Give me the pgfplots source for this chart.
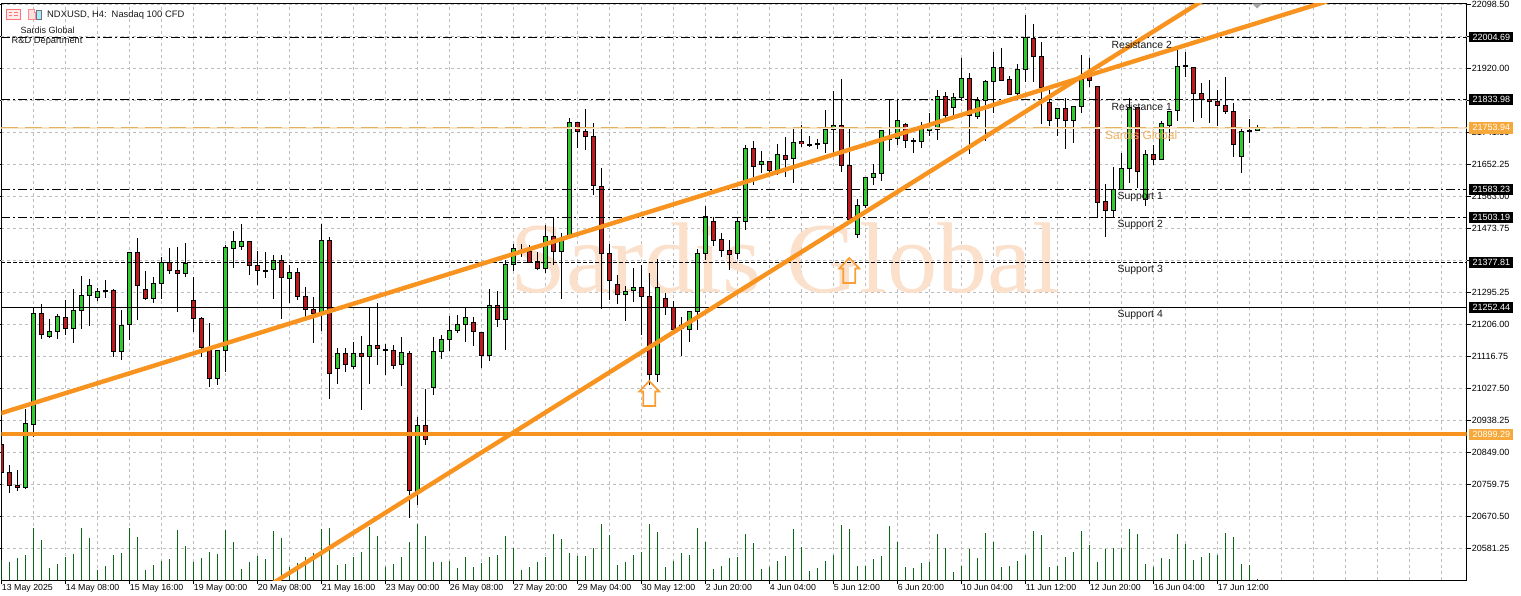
\documentclass[border=0pt]{standalone}
\usepackage{fontspec}
\setmainfont{Liberation Sans}
\newfontfamily\wmfont{Liberation Serif}
\usepackage{pgfplots}
\usepackage{pgfplotstable}
\pgfplotsset{compat=1.18}

\definecolor{upbody}{HTML}{2FCB2F}
\definecolor{downbody}{HTML}{BE1A1E}
\definecolor{volgreen}{HTML}{0A6618}
\definecolor{trend}{HTML}{F7931E}
\definecolor{gridgrey}{HTML}{BDBDBD}
\definecolor{wmark}{HTML}{FBE0CB}
\definecolor{midline}{HTML}{E4B25C}
\definecolor{midpale}{HTML}{F6E7CC}
\definecolor{midbox}{HTML}{F7A83A}
\definecolor{midtext}{HTML}{EFAE5C}

% i open high low close
\pgfplotstableread{
i o h l c
3 20751.4 20969.0 20745.9 20928.0
4 20926.0 21250.7 20890.9 21236.7
6 21171.5 21220.0 21168.7 21186.5
7 21186.5 21234.8 21165.9 21228.3
9 21193.8 21304.5 21154.7 21245.1
10 21245.1 21340.7 21193.8 21286.9
11 21285.8 21332.4 21202.1 21314.8
12 21280.2 21307.3 21271.9 21298.1
13 21299.0 21329.6 21280.2 21300.5
15 21129.6 21245.9 21107.3 21203.2
16 21204.9 21407.7 21161.4 21407.7
19 21277.4 21337.1 21266.3 21320.4
20 21320.4 21394.6 21275.8 21378.9
23 21348.3 21431.9 21337.1 21376.2
27 21054.3 21134.3 21037.6 21133.5
28 21133.5 21427.2 21073.0 21420.8
29 21416.9 21466.2 21363.9 21437.5
30 21422.5 21484.9 21413.2 21437.5
33 21355.5 21407.7 21335.2 21356.6
34 21358.3 21399.3 21276.6 21383.4
36 21333.2 21371.4 21266.3 21351.9
40 21236.7 21485.8 21188.2 21440.3
42 21082.2 21139.1 21039.5 21125.2
44 21089.7 21155.8 21082.2 21125.2
46 21117.6 21255.1 21039.5 21147.5
50 21093.4 21169.8 21033.9 21127.9
52 20738.3 20948.3 20702.1 20923.2
54 21029.2 21169.8 21008.8 21130.7
55 21129.6 21176.2 21109.2 21164.2
56 21163.1 21229.2 21131.6 21189.3
57 21188.2 21232.0 21181.8 21206.0
58 21204.9 21253.4 21157.5 21225.5
61 21118.5 21303.6 21104.5 21259.0
63 21220.0 21385.4 21134.3 21373.4
64 21373.4 21430.0 21355.5 21418.0
65 21406.3 21430.0 21394.6 21409.1
68 21361.1 21483.0 21349.9 21451.5
70 21408.5 21459.8 21277.4 21445.9
71 21455.1 21780.6 21455.1 21769.4
78 21289.7 21312.8 21216.1 21298.1
79 21299.7 21362.2 21269.1 21309.2
82 21066.6 21387.3 21045.1 21309.2
86 21192.1 21243.1 21157.5 21242.3
87 21242.3 21415.2 21190.1 21404.1
88 21404.1 21536.0 21385.4 21506.1
92 21402.9 21502.5 21389.0 21493.3
93 21492.2 21706.9 21469.0 21696.9
95 21653.1 21689.4 21628.8 21660.6
97 21636.4 21708.9 21622.4 21680.2
99 21667.9 21754.3 21601.0 21713.6
102 21709.2 21722.0 21694.1 21710.2
103 21710.8 21803.7 21684.6 21749.9
104 21749.9 21856.7 21683.8 21759.9
107 21455.9 21554.7 21447.6 21537.9
108 21536.8 21616.8 21529.6 21616.0
109 21616.0 21653.1 21594.5 21627.2
110 21626.1 21747.9 21606.5 21747.1
111 21722.8 21833.6 21690.2 21728.4
112 21724.8 21833.6 21706.1 21775.0
115 21715.3 21769.4 21697.7 21753.5
116 21747.9 21796.2 21731.2 21752.1
117 21748.8 21859.5 21720.0 21841.9
119 21811.2 21850.3 21789.8 21837.2
120 21838.0 21949.6 21828.8 21892.1
122 21785.0 21840.8 21779.4 21831.6
123 21829.6 21887.4 21718.1 21884.6
124 21882.6 21966.3 21794.5 21922.8
127 21851.1 21931.2 21845.5 21917.2
128 21916.1 22068.7 21882.6 22004.5
132 21779.4 21809.3 21731.2 21808.5
134 21775.8 21814.9 21712.5 21812.9
135 21812.9 21956.3 21794.5 21889.3
139 21522.9 21643.9 21504.5 21582.5
140 21582.5 21684.6 21582.5 21641.1
141 21640.0 21836.3 21601.0 21811.2
143 21554.7 21692.1 21536.0 21680.2
145 21666.2 21773.9 21666.2 21766.6
146 21761.9 21800.9 21718.1 21800.1
147 21801.8 21971.0 21773.9 21925.6
155 21673.5 21752.7 21628.8 21744.3
157 21747.1 21761.0 21745.1 21752.7
}\upcandles

\pgfplotstableread{
i o h l c
0 20872.2 20875.0 20791.3 20792.1
1 20794.1 20813.6 20736.4 20757.0
2 20757.8 20799.7 20742.0 20750.3
5 21236.7 21262.6 21164.2 21177.0
8 21225.5 21273.8 21177.0 21193.8
14 21301.7 21304.5 21115.7 21129.6
17 21407.7 21445.9 21218.0 21313.7
18 21303.6 21354.7 21275.8 21277.4
21 21378.9 21418.0 21347.2 21356.6
22 21356.6 21422.5 21240.3 21347.2
24 21273.8 21337.1 21184.6 21221.6
25 21222.8 21227.2 21115.7 21140.8
26 21140.8 21208.8 21032.0 21054.3
31 21437.5 21438.4 21343.5 21369.5
32 21370.6 21411.3 21315.6 21355.5
35 21383.4 21399.3 21221.6 21336.0
37 21351.1 21362.2 21273.8 21283.0
38 21284.1 21309.2 21227.2 21247.9
39 21247.9 21281.3 21154.7 21234.8
41 21440.3 21448.7 20997.7 21068.3
43 21125.2 21139.1 21073.0 21093.4
45 21125.2 21173.4 20967.9 21117.6
47 21147.5 21264.6 21093.4 21138.0
48 21136.0 21151.1 21064.6 21134.5
49 21133.5 21147.5 21082.2 21090.6
51 21125.2 21130.7 20666.6 20741.9
53 20923.2 21025.6 20869.4 20884.2
59 21211.6 21225.5 21145.5 21185.4
60 21183.7 21184.6 21085.0 21118.5
62 21259.0 21298.1 21199.3 21218.9
66 21408.5 21427.2 21379.8 21379.8
67 21381.7 21406.8 21357.5 21360.3
69 21451.5 21506.1 21372.3 21408.5
72 21769.4 21770.2 21697.7 21743.2
73 21744.3 21805.7 21692.1 21729.2
74 21730.4 21766.6 21567.5 21592.6
75 21590.9 21641.1 21249.5 21404.1
76 21404.1 21430.0 21273.8 21327.6
77 21317.6 21342.7 21262.6 21288.6
80 21309.2 21371.4 21176.2 21283.0
81 21284.1 21348.3 21036.7 21066.6
83 21278.5 21293.3 21232.0 21253.4
84 21253.4 21271.9 21190.1 21192.1
85 21204.1 21227.2 21117.6 21195.7
89 21493.3 21506.1 21424.4 21441.1
90 21443.1 21459.8 21392.9 21411.3
91 21412.4 21441.1 21357.5 21402.1
94 21696.9 21717.3 21594.5 21645.6
96 21660.6 21661.5 21617.7 21636.4
98 21677.4 21727.6 21616.0 21667.0
100 21716.4 21761.9 21701.4 21709.7
101 21707.5 21731.2 21699.7 21706.3
105 21759.9 21889.3 21631.6 21648.4
106 21649.5 21749.9 21498.9 21498.9
113 21763.8 21766.6 21697.7 21719.2
114 21718.0 21724.8 21684.6 21716.7
118 21841.9 21853.1 21771.1 21787.8
121 21892.1 21906.1 21681.0 21787.8
125 21922.8 21975.8 21885.4 21887.4
126 21889.3 21898.5 21845.5 21847.5
129 22004.5 22043.6 21882.6 21952.4
130 21953.5 21994.2 21764.7 21867.0
131 21826.0 21859.5 21759.1 21775.8
133 21808.5 21836.3 21695.8 21775.8
136 21898.5 21947.9 21867.0 21885.4
137 21870.6 21870.6 21506.1 21546.3
138 21549.1 21597.3 21450.3 21522.9
142 21811.2 21812.9 21585.3 21633.6
144 21680.2 21706.1 21650.3 21664.3
148 21927.0 21966.3 21894.9 21925.8
149 21922.8 21923.6 21769.4 21849.2
150 21849.2 21878.2 21780.6 21832.4
151 21833.6 21887.4 21766.6 21828.0
152 21828.0 21859.5 21759.1 21815.7
153 21816.8 21894.9 21791.7 21800.1
154 21799.0 21822.4 21673.5 21708.0
156 21745.8 21778.6 21712.5 21744.5
}\downcandles

% tick volume, in units of one pixel of the sub-window
\pgfplotstableread{
i v
0 20
1 18
2 22
3 25
4 52
5 40
6 12
7 16
8 23
9 26
10 52
11 42
12 10
13 14
14 25
15 27
16 52
17 43
18 10
19 15
20 19
21 21
22 50
23 34
24 18
25 22
26 28
27 26
28 50
29 38
30 11
31 18
32 24
33 21
34 49
35 42
36 13
37 17
38 23
39 27
40 51
41 52
42 15
43 16
44 23
45 28
46 53
47 44
48 13
49 16
50 23
51 38
52 56
53 44
54 18
55 18
56 19
57 12
58 23
59 13
60 17
61 23
62 25
63 44
64 32
65 10
66 13
67 18
68 23
69 46
70 41
71 27
72 24
73 24
74 32
75 56
76 45
77 15
78 18
79 25
80 28
81 56
82 48
83 13
84 19
85 27
86 25
87 52
88 38
89 11
90 14
91 22
92 23
93 46
94 37
95 11
96 13
97 19
98 24
99 51
100 33
101 9
102 12
103 19
104 25
105 55
106 51
107 14
108 14
109 21
110 24
111 54
112 38
113 13
114 12
115 17
116 18
117 46
118 32
119 8
120 14
121 31
122 22
123 47
124 38
125 13
126 14
127 19
128 25
129 49
130 45
131 13
132 14
133 23
134 28
135 49
136 35
137 18
138 31
139 32
140 32
141 51
142 46
143 16
144 13
145 22
146 21
147 46
148 36
149 20
150 23
151 27
152 25
153 47
154 43
155 16
156 15
157 1
}\volumes

\pgfdeclareplotmark{uparrow}{%
  \pgfpathmoveto{\pgfqpoint{0pt}{12.5pt}}%
  \pgfpathlineto{\pgfqpoint{10pt}{2pt}}%
  \pgfpathlineto{\pgfqpoint{6pt}{2pt}}%
  \pgfpathlineto{\pgfqpoint{6pt}{-12.5pt}}%
  \pgfpathlineto{\pgfqpoint{-6pt}{-12.5pt}}%
  \pgfpathlineto{\pgfqpoint{-6pt}{2pt}}%
  \pgfpathlineto{\pgfqpoint{-10pt}{2pt}}%
  \pgfpathclose
  \pgfusepathqstroke
}

\newcommand{\pxu}{2.789} % price units per pixel
\newcommand{\candles}[2]{%
  \addplot[draw=none,mark=none,error bars/.cd,y dir=both,y explicit,error mark=none,
    error bar style={line width=1pt,draw=black}]
    table[x=i,y=c,y error plus expr={\thisrow{h}-\thisrow{c}},y error minus expr={\thisrow{c}-\thisrow{l}}] {#1};
  \addplot[draw=none,mark=none,error bars/.cd,y dir=both,y explicit,error mark=none,
    error bar style={line width=5pt,draw=black}]
    table[x=i,y expr={(\thisrow{o}+\thisrow{c})/2},
      y error plus expr={abs(\thisrow{c}-\thisrow{o})/2+0.5*\pxu},
      y error minus expr={abs(\thisrow{c}-\thisrow{o})/2+0.5*\pxu}] {#1};
  \addplot[draw=none,mark=none,error bars/.cd,y dir=both,y explicit,error mark=none,
    error bar style={line width=3.3pt,draw=#2}]
    table[x=i,y expr={(\thisrow{o}+\thisrow{c})/2},
      y error plus expr={max(abs(\thisrow{c}-\thisrow{o})/2-0.5*\pxu,0)},
      y error minus expr={max(abs(\thisrow{c}-\thisrow{o})/2-0.5*\pxu,0)}] {#1};
}
\newcommand{\lvl}[2]{\addplot[#2] coordinates {(0,#1) (184,#1)};}
\tikzset{
  ddot/.style={black,line width=0.9pt,dash pattern=on 9pt off 3pt on 2pt off 3pt},
  smalltxt/.style={font=\fontsize{10.4}{12}\selectfont,inner sep=0pt,anchor=west,text=black!90},
  pricebox/.style={fill=#1,text=white,inner sep=0pt,minimum width=44pt,minimum height=10.5pt,
    font=\fontsize{9}{10}\selectfont},
}

\begin{document}
\begin{tikzpicture}
\useasboundingbox (0,0) rectangle (1521pt,595pt);
\begin{axis}[
  at={(1.3pt,15pt)},anchor=south west,
  scale only axis,width=1465.4pt,height=576.5pt,
  xmin=0,xmax=183.175,ymin=20492.9,ymax=22100.7,
  axis line style={black,line width=1pt},
  xtick={0,8,...,152},
  xticklabels={13 May 2025,14 May 08:00,15 May 16:00,19 May 00:00,20 May 08:00,21 May 16:00,
    23 May 00:00,26 May 08:00,27 May 20:00,29 May 04:00,30 May 12:00,2 Jun 20:00,4 Jun 04:00,
    5 Jun 12:00,6 Jun 20:00,10 Jun 04:00,11 Jun 12:00,12 Jun 20:00,16 Jun 04:00,17 Jun 12:00},
  minor xtick={4,12,...,180,160,168,176},
  scaled y ticks=false,
  ytick={20581.25,20670.5,20759.75,20849,20938.25,21027.5,21116.75,21206,21295.25,
    21473.75,21563,21652.25,21741.5,21920,22098.5},
  % these three sit under the price boxes, so they carry no label
  extra y ticks={21384.5,21830.75,22009.25},
  extra y tick labels={},
  extra y tick style={grid=major},
  yticklabel pos=right,
  tick align=outside,
  major tick length=4pt,minor tick length=0pt,
  xtick pos=bottom,
  tick style={black,line width=0.8pt},
  xmajorgrids,xminorgrids,ymajorgrids,
  grid style={gridgrey,line width=0.7pt,dash pattern=on 3pt off 3pt},
  minor grid style={gridgrey,line width=0.7pt,dash pattern=on 3pt off 3pt},
  /pgf/number format/assume math mode=true,
  y tick label style={/pgf/number format/fixed,/pgf/number format/fixed zerofill,
    /pgf/number format/precision=2,/pgf/number format/1000 sep={},
    font=\fontsize{9}{10}\selectfont,anchor=west,inner sep=0pt,xshift=1pt},
  x tick label style={font=\fontsize{8.8}{10}\selectfont,anchor=north west,inner sep=0pt,
    xshift=0.5pt,yshift=-0.5pt},
]
\node[font=\wmfont\fontsize{100.5}{100}\selectfont,text=wmark,anchor=base west,inner sep=0pt]
  at (axis cs:63.6,21295) {Sardis Global};

\addplot[ycomb,volgreen,line width=1.2pt]
  table[x=i,y expr={\thisrow{v}*\pxu+20492.9}] {\volumes};

\candles{\upcandles}{upbody}
\candles{\downcandles}{downbody}

% horizontal levels
\lvl{22004.69}{ddot}
\lvl{21833.98}{ddot}
\lvl{21583.23}{ddot}
\lvl{21503.19}{ddot}
\lvl{21377.81}{black,line width=0.9pt,dash pattern=on 4pt off 2pt}
\lvl{21252.44}{black,line width=0.9pt}
\lvl{21753.94}{midpale,line width=2pt}
\lvl{21753.94}{midline,line width=1.1pt,dash pattern=on 17pt off 7pt}
\lvl{20899.29}{trend,line width=4pt}

% trend lines
\addplot[trend,line width=4.4pt] coordinates {(-1.16,20950.3) (165.84,22107.7)};
\addplot[trend,line width=4.4pt] coordinates {(33.84,20482.3) (150.09,22107.7)};

% entry arrows
\addplot[only marks,mark=uparrow,mark options={draw=trend!90!white,line width=1.7pt,fill=none}]
  coordinates {(81,21013) (106,21356.1)};
\end{axis}

\begin{scope}[x=1pt,y=-1pt,yshift=595pt]
  % header
  \draw[draw=red!55!white,fill=red!8!white,line width=0.8pt] (6.5,9.5) rectangle (20,19);
  \draw[red!55!white,line width=0.8pt] (9,12.5) -- (12,12.5) (9,15.5) -- (12,15.5) (14,12.5) -- (18,12.5) (14,15.5) -- (18,15.5);
  \draw[draw=red!45!white,fill=red!12!white,line width=0.8pt] (28,9.5) -- (34,9.5) -- (34,12) -- (35,12) -- (35,19) -- (28,19) -- cycle;
  \fill[blue!25!cyan!35!white] (36,10) -- (41.5,10) -- (41.5,19) -- (36,19) -- cycle;
  \draw[black!55,line width=0.6pt] (36,10) rectangle (41.5,19);
  \node[smalltxt,font=\fontsize{9.4}{11}\selectfont] at (47,15) {NDXUSD, H4:\hspace{5pt}Nasdaq 100 CFD};
  \node[smalltxt,font=\fontsize{9}{11}\selectfont] at (20.5,30) {Sardis Global};
  \node[smalltxt,font=\fontsize{9.3}{11}\selectfont] at (11.5,41.5) {R\&D Department};

  % level names
  \node[smalltxt] at (1111.5,45.2) {Resistance 2};
  \node[smalltxt] at (1111.5,107) {Resistance 1};
  \node[smalltxt,text=midtext,font=\fontsize{12}{14}\selectfont] at (1105,135) {Sardis Global};
  \node[smalltxt] at (1117.5,197.3) {Support 1};
  \node[smalltxt] at (1117.5,225.3) {Support 2};
  \node[smalltxt] at (1117.5,270.3) {Support 3};
  \node[smalltxt] at (1117.5,315.3) {Support 4};

  % chart shift marker
  \fill[black!35] (1252,3.5) -- (1262,3.5) -- (1257,8.5) -- cycle;

  % price boxes on the right scale
  \node[pricebox=black] at (1491.3,37.2) {22004.69};
  \node[pricebox=black] at (1491.3,99.5) {21833.98};
  \node[pricebox=midbox,minimum height=12pt] at (1491.3,127.7) {21753.94};
  \node[pricebox=black] at (1491.3,189.5) {21583.23};
  \node[pricebox=black] at (1491.3,217.5) {21503.19};
  \node[pricebox=black] at (1491.3,262.5) {21377.81};
  \node[pricebox=black] at (1491.3,307.5) {21252.44};
  \node[pricebox=midbox,minimum height=11pt] at (1491.3,434.5) {20899.29};
\end{scope}
\end{tikzpicture}
\end{document}
